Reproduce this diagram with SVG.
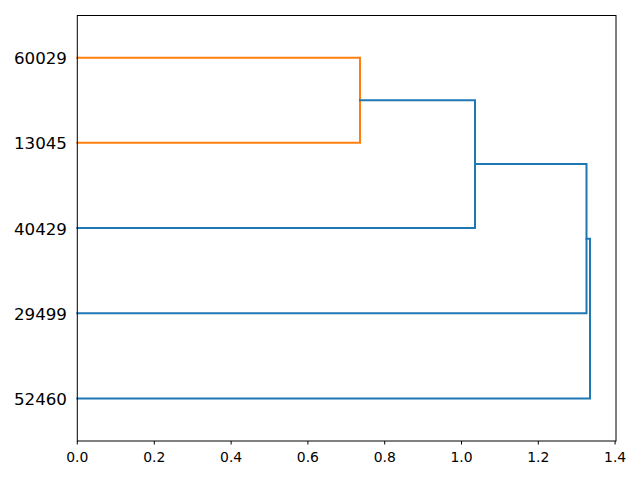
<svg xmlns="http://www.w3.org/2000/svg" width="640" height="480" viewBox="0 0 640 480">
<style>
.lbl{font-family:"DejaVu Sans",sans-serif;font-size:16.7px;fill:#000;text-anchor:end}
.tk{font-family:"DejaVu Sans",sans-serif;font-size:13.9px;fill:#000;text-anchor:middle}
.or{fill:none;stroke:#ff7f0e;stroke-width:2;stroke-linejoin:miter;stroke-linecap:square}
.bl{fill:none;stroke:#1f77b4;stroke-width:2;stroke-linejoin:miter;stroke-linecap:square}
.ax{fill:none;stroke:#000;stroke-width:1}
</style>
<rect width="640" height="480" fill="#fff"/>
<g id="connectors">
<path class="or" d="M77.3,57.7 H360 V142.8 H77.3"/>
<path class="bl" d="M360,100.2 H475 V228 H77.3"/>
<path class="bl" d="M475,164.1 H586.5 V313.2 H77.3"/>
<path class="bl" d="M586.5,238.7 H590 V398.4 H77.3"/>
</g>
<g id="axes">
<rect class="ax" x="77.3" y="15.5" width="538.7" height="425.5"/>
<g stroke="#000" stroke-width="1">
<line x1="77.3" y1="441" x2="77.3" y2="444.5"/>
<line x1="154.3" y1="441" x2="154.3" y2="444.5"/>
<line x1="231.1" y1="441" x2="231.1" y2="444.5"/>
<line x1="307.9" y1="441" x2="307.9" y2="444.5"/>
<line x1="384.7" y1="441" x2="384.7" y2="444.5"/>
<line x1="461.5" y1="441" x2="461.5" y2="444.5"/>
<line x1="538.3" y1="441" x2="538.3" y2="444.5"/>
<line x1="615.1" y1="441" x2="615.1" y2="444.5"/>
</g>
<text class="tk" x="77.3" y="461.5">0.0</text>
<text class="tk" x="154.3" y="461.5">0.2</text>
<text class="tk" x="231.1" y="461.5">0.4</text>
<text class="tk" x="307.9" y="461.5">0.6</text>
<text class="tk" x="384.7" y="461.5">0.8</text>
<text class="tk" x="461.5" y="461.5">1.0</text>
<text class="tk" x="538.3" y="461.5">1.2</text>
<text class="tk" x="615.1" y="461.5">1.4</text>
</g>
<g id="leaf-60029"><text class="lbl" x="67" y="64.3">60029</text></g>
<g id="leaf-13045"><text class="lbl" x="67" y="149.4">13045</text></g>
<g id="leaf-40429"><text class="lbl" x="67" y="234.6">40429</text></g>
<g id="leaf-29499"><text class="lbl" x="67" y="319.8">29499</text></g>
<g id="leaf-52460"><text class="lbl" x="67" y="405">52460</text></g>
</svg>
